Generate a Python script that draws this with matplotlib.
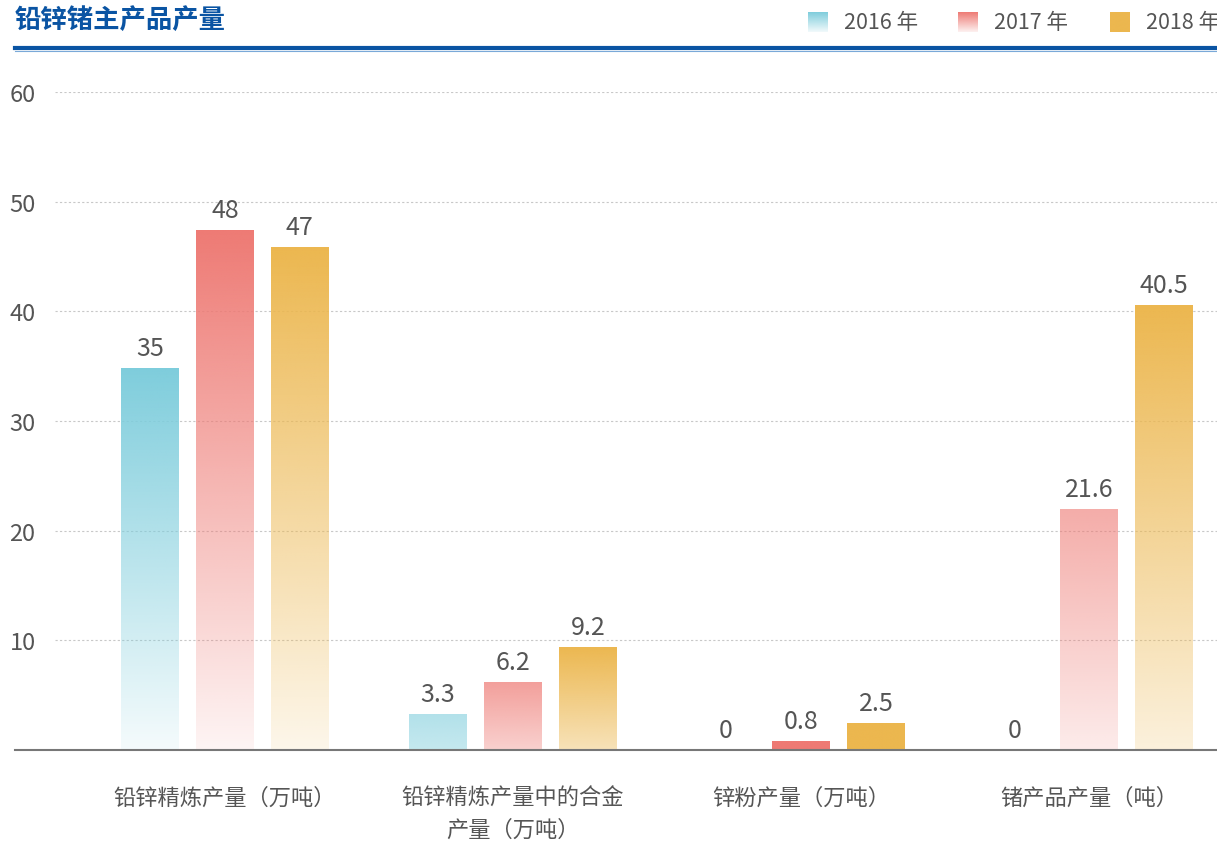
import numpy as np
import matplotlib
matplotlib.use("Agg")
import matplotlib.pyplot as plt
from matplotlib.colors import to_rgb
from matplotlib.lines import Line2D

plt.rcParams['font.family'] = ['Noto Sans CJK SC', 'DejaVu Sans']

# Data
categories = ['铅锌精炼产量（万吨）', '铅锌精炼产量中的合金\n产量（万吨）', '锌粉产量（万吨）', '锗产品产量（吨）']
years = ['2016 年', '2017 年', '2018 年']
values_2016 = [34.8, 3.3, 0, 0]
values_2017 = [47.4, 6.2, 0.8, 22.0]
values_2018 = [45.9, 9.4, 2.5, 40.6]
labels_2016 = ['35', '3.3', '0', '0']
labels_2017 = ['48', '6.2', '0.8', '21.6']
labels_2018 = ['47', '9.2', '2.5', '40.5']
yticks = [10, 20, 30, 40, 50, 60]

# styling: bar colours and gradient opacity (top, bottom) per bar
colors = ['#7ecddc', '#ee7a74', '#ecb74f']
grad_top = [[1.0, 0.6, 1.0, 1.0], [1.0, 0.72, 1.0, 0.62], [1.0, 1.0, 1.0, 1.0]]
grad_bot = [[0.08, 0.45, 1.0, 1.0], [0.08, 0.35, 1.0, 0.15], [0.12, 0.4, 1.0, 0.2]]
text_grey = '#555555'

fig = plt.figure(figsize=(12.17, 8.45), dpi=100)
ax = fig.add_axes([55 / 1217, 94 / 845, 1 - 55 / 1217, (751 - 93) / 845])


def gradient_img(color, top=1.0, low=0.08, n=256):
    rgb = np.array(to_rgb(color))
    img = np.ones((n, 1, 4))
    img[:, 0, :3] = rgb
    img[:, 0, 3] = np.linspace(top, low, n)  # top -> bottom fade
    return img


x = np.arange(len(categories))
offset = 0.26
width = 0.20
series = [values_2016, values_2017, values_2018]
series_labels = [labels_2016, labels_2017, labels_2018]

for i, (vals, labs, col) in enumerate(zip(series, series_labels, colors)):
    bars = ax.bar(x + (i - 1) * offset, vals, width, color='none', zorder=2)
    for j, (b, lab) in enumerate(zip(bars, labs)):
        h = b.get_height()
        x0 = b.get_x()
        if h > 0:
            img = gradient_img(col, grad_top[i][j], grad_bot[i][j])
            im = ax.imshow(img, extent=[x0, x0 + b.get_width(), 0, h],
                           aspect='auto', zorder=2, interpolation='bilinear')
            im.set_clip_path(b)
        ax.annotate(lab, (x0 + b.get_width() / 2, h), xytext=(0, 5),
                    textcoords='offset points', ha='center', va='bottom',
                    fontsize=18, color=text_grey)

ax.set_xlim(-0.59, 3.444)
ax.set_ylim(0, 60)
ax.set_yticks(yticks)
ax.set_yticklabels([str(t) for t in yticks], fontsize=17, color=text_grey)
ax.tick_params(axis='y', length=0, pad=14)
ax.set_xticks([])
ax.grid(axis='y', linestyle=(0, (2, 2)), color='#c8c8c8', linewidth=0.8, zorder=0)
for s in ax.spines.values():
    s.set_visible(False)

for xi, cat in zip(x, categories):
    ax.text(xi, -3.3, cat, ha='center', va='top', fontsize=16,
            color=text_grey, linespacing=1.5)

# baseline spanning beyond the axes
fig.add_artist(Line2D([15 / 1217, 1], [(845 - 751) / 845] * 2, color='#777777', linewidth=1.5))

# title and header rule
fig.text(15 / 1217, 1 - 20 / 845, '铅锌锗主产品产量', fontsize=19, fontweight='bold',
         color='#0a54a3', va='center', ha='left')
fig.add_artist(Line2D([15 / 1217, 1], [1 - 48.5 / 845] * 2, color='#0a54a3', linewidth=3))
fig.add_artist(Line2D([15 / 1217, 1], [1 - 51.5 / 845] * 2, color='#7aa9d8', linewidth=0.8))

# legend
for px, yr, col in zip([808, 958, 1110], years, colors):
    lax = fig.add_axes([px / 1217, 1 - 33 / 845, 20 / 1217, 20 / 845])
    lax.imshow(gradient_img(col, 1.0, 0.1 if col != colors[2] else 1.0),
               extent=[0, 1, 0, 1], aspect='auto')
    lax.axis('off')
    fig.text((px + 36) / 1217, 1 - 23 / 845, yr, fontsize=15.5, color=text_grey,
             va='center', ha='left')

fig.savefig('out.png', dpi=100)
